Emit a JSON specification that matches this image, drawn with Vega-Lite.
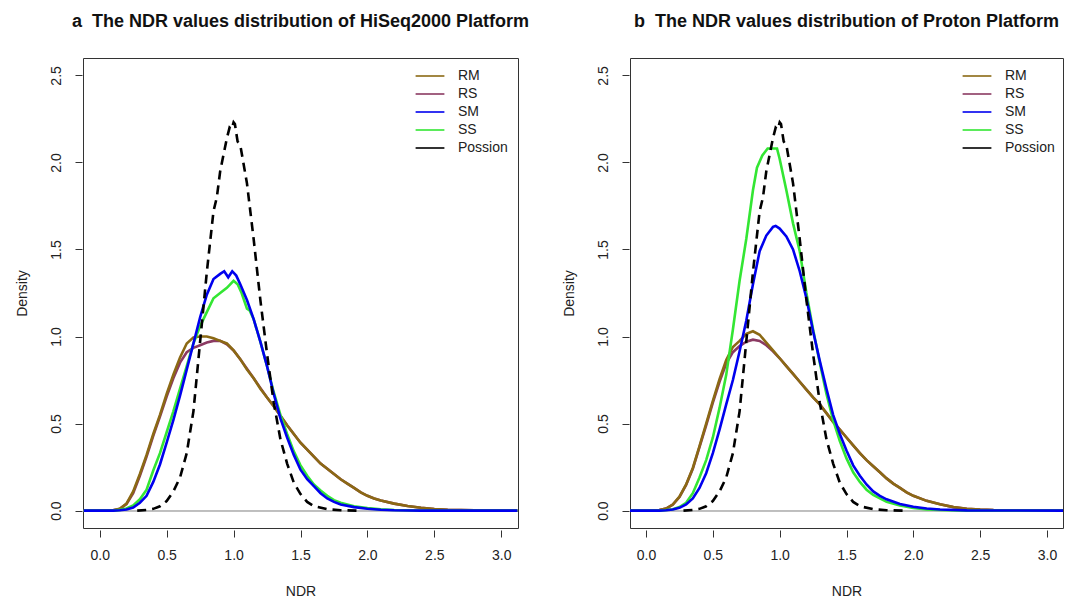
{
  "$schema": "https://vega.github.io/schema/vega-lite/v6.json",
  "padding": {"left": 14, "top": 12, "right": 5, "bottom": 5},
  "spacing": 112,
  "bounds": "flush",
  "config": {
    "font": "Liberation Sans",
    "view": {"stroke": "#333333", "strokeWidth": 1},
    "axis": {"labelFontSize": 14, "titleFontSize": 14, "titleFontWeight": "normal", "labelColor": "#222222", "titleColor": "#222222", "tickColor": "#333333", "grid": false, "domain": false, "tickSize": 7},
    "legend": {"labelFontSize": 14, "labelColor": "#222222"},
    "title": {"fontSize": 18, "fontWeight": "bold", "color": "#111111", "baseline": "alphabetic", "offset": 27.5, "frame": "group"}
  },
  "datasets": {
    "hiseq": [
      {"series":"RS","NDR":-0.12,"Density":0},{"series":"RS","NDR":0.05,"Density":0},{"series":"RS","NDR":0.10,"Density":0.002},{"series":"RS","NDR":0.15,"Density":0.01},{"series":"RS","NDR":0.20,"Density":0.038},{"series":"RS","NDR":0.25,"Density":0.10},{"series":"RS","NDR":0.30,"Density":0.20},{"series":"RS","NDR":0.35,"Density":0.31},{"series":"RS","NDR":0.40,"Density":0.43},{"series":"RS","NDR":0.45,"Density":0.54},{"series":"RS","NDR":0.50,"Density":0.655},{"series":"RS","NDR":0.55,"Density":0.76},{"series":"RS","NDR":0.60,"Density":0.85},{"series":"RS","NDR":0.65,"Density":0.91},{"series":"RS","NDR":0.70,"Density":0.935},{"series":"RS","NDR":0.75,"Density":0.95},{"series":"RS","NDR":0.80,"Density":0.965},{"series":"RS","NDR":0.85,"Density":0.975},{"series":"RS","NDR":0.90,"Density":0.975},{"series":"RS","NDR":0.95,"Density":0.955},{"series":"RS","NDR":1.00,"Density":0.92},{"series":"RS","NDR":1.05,"Density":0.87},{"series":"RS","NDR":1.10,"Density":0.815},{"series":"RS","NDR":1.15,"Density":0.76},{"series":"RS","NDR":1.20,"Density":0.705},{"series":"RS","NDR":1.25,"Density":0.65},{"series":"RS","NDR":1.30,"Density":0.60},{"series":"RS","NDR":1.35,"Density":0.545},{"series":"RS","NDR":1.40,"Density":0.49},{"series":"RS","NDR":1.45,"Density":0.44},{"series":"RS","NDR":1.50,"Density":0.39},{"series":"RS","NDR":1.55,"Density":0.35},{"series":"RS","NDR":1.60,"Density":0.31},{"series":"RS","NDR":1.65,"Density":0.27},{"series":"RS","NDR":1.70,"Density":0.24},{"series":"RS","NDR":1.75,"Density":0.21},{"series":"RS","NDR":1.80,"Density":0.18},{"series":"RS","NDR":1.85,"Density":0.155},{"series":"RS","NDR":1.90,"Density":0.13},{"series":"RS","NDR":1.95,"Density":0.105},{"series":"RS","NDR":2.00,"Density":0.085},{"series":"RS","NDR":2.05,"Density":0.07},{"series":"RS","NDR":2.10,"Density":0.058},{"series":"RS","NDR":2.20,"Density":0.04},{"series":"RS","NDR":2.30,"Density":0.026},{"series":"RS","NDR":2.40,"Density":0.016},{"series":"RS","NDR":2.50,"Density":0.009},{"series":"RS","NDR":2.60,"Density":0.005},{"series":"RS","NDR":2.80,"Density":0.001},{"series":"RS","NDR":3.12,"Density":0},
      {"series":"RM","NDR":-0.12,"Density":0},{"series":"RM","NDR":0.05,"Density":0},{"series":"RM","NDR":0.10,"Density":0.002},{"series":"RM","NDR":0.15,"Density":0.01},{"series":"RM","NDR":0.20,"Density":0.04},{"series":"RM","NDR":0.25,"Density":0.11},{"series":"RM","NDR":0.30,"Density":0.21},{"series":"RM","NDR":0.35,"Density":0.32},{"series":"RM","NDR":0.40,"Density":0.44},{"series":"RM","NDR":0.45,"Density":0.55},{"series":"RM","NDR":0.50,"Density":0.67},{"series":"RM","NDR":0.55,"Density":0.78},{"series":"RM","NDR":0.60,"Density":0.88},{"series":"RM","NDR":0.65,"Density":0.96},{"series":"RM","NDR":0.70,"Density":0.995},{"series":"RM","NDR":0.75,"Density":1.0},{"series":"RM","NDR":0.80,"Density":1.0},{"series":"RM","NDR":0.85,"Density":0.99},{"series":"RM","NDR":0.90,"Density":0.975},{"series":"RM","NDR":0.95,"Density":0.96},{"series":"RM","NDR":1.00,"Density":0.92},{"series":"RM","NDR":1.05,"Density":0.87},{"series":"RM","NDR":1.10,"Density":0.81},{"series":"RM","NDR":1.15,"Density":0.76},{"series":"RM","NDR":1.20,"Density":0.70},{"series":"RM","NDR":1.25,"Density":0.65},{"series":"RM","NDR":1.30,"Density":0.60},{"series":"RM","NDR":1.35,"Density":0.545},{"series":"RM","NDR":1.40,"Density":0.49},{"series":"RM","NDR":1.45,"Density":0.44},{"series":"RM","NDR":1.50,"Density":0.39},{"series":"RM","NDR":1.55,"Density":0.35},{"series":"RM","NDR":1.60,"Density":0.31},{"series":"RM","NDR":1.65,"Density":0.27},{"series":"RM","NDR":1.70,"Density":0.24},{"series":"RM","NDR":1.75,"Density":0.21},{"series":"RM","NDR":1.80,"Density":0.18},{"series":"RM","NDR":1.85,"Density":0.155},{"series":"RM","NDR":1.90,"Density":0.13},{"series":"RM","NDR":1.95,"Density":0.105},{"series":"RM","NDR":2.00,"Density":0.085},{"series":"RM","NDR":2.05,"Density":0.07},{"series":"RM","NDR":2.10,"Density":0.058},{"series":"RM","NDR":2.20,"Density":0.04},{"series":"RM","NDR":2.30,"Density":0.026},{"series":"RM","NDR":2.40,"Density":0.016},{"series":"RM","NDR":2.50,"Density":0.009},{"series":"RM","NDR":2.60,"Density":0.005},{"series":"RM","NDR":2.80,"Density":0.001},{"series":"RM","NDR":3.12,"Density":0},
      {"series":"SS","NDR":-0.12,"Density":0},{"series":"SS","NDR":0.10,"Density":0},{"series":"SS","NDR":0.15,"Density":0.004},{"series":"SS","NDR":0.20,"Density":0.012},{"series":"SS","NDR":0.25,"Density":0.03},{"series":"SS","NDR":0.30,"Density":0.065},{"series":"SS","NDR":0.35,"Density":0.12},{"series":"SS","NDR":0.40,"Density":0.23},{"series":"SS","NDR":0.45,"Density":0.33},{"series":"SS","NDR":0.50,"Density":0.45},{"series":"SS","NDR":0.55,"Density":0.57},{"series":"SS","NDR":0.60,"Density":0.70},{"series":"SS","NDR":0.65,"Density":0.83},{"series":"SS","NDR":0.70,"Density":0.96},{"series":"SS","NDR":0.75,"Density":1.06},{"series":"SS","NDR":0.80,"Density":1.14},{"series":"SS","NDR":0.85,"Density":1.22},{"series":"SS","NDR":0.90,"Density":1.25},{"series":"SS","NDR":0.95,"Density":1.28},{"series":"SS","NDR":1.00,"Density":1.32},{"series":"SS","NDR":1.03,"Density":1.30},{"series":"SS","NDR":1.06,"Density":1.25},{"series":"SS","NDR":1.10,"Density":1.16},{"series":"SS","NDR":1.12,"Density":1.15},{"series":"SS","NDR":1.15,"Density":1.10},{"series":"SS","NDR":1.20,"Density":0.97},{"series":"SS","NDR":1.25,"Density":0.83},{"series":"SS","NDR":1.30,"Density":0.68},{"series":"SS","NDR":1.35,"Density":0.55},{"series":"SS","NDR":1.40,"Density":0.44},{"series":"SS","NDR":1.45,"Density":0.34},{"series":"SS","NDR":1.50,"Density":0.26},{"series":"SS","NDR":1.55,"Density":0.20},{"series":"SS","NDR":1.60,"Density":0.15},{"series":"SS","NDR":1.65,"Density":0.115},{"series":"SS","NDR":1.70,"Density":0.085},{"series":"SS","NDR":1.75,"Density":0.06},{"series":"SS","NDR":1.80,"Density":0.045},{"series":"SS","NDR":1.90,"Density":0.025},{"series":"SS","NDR":2.00,"Density":0.014},{"series":"SS","NDR":2.10,"Density":0.007},{"series":"SS","NDR":2.20,"Density":0.003},{"series":"SS","NDR":2.40,"Density":0},{"series":"SS","NDR":3.12,"Density":0},
      {"series":"SM","NDR":-0.12,"Density":0},{"series":"SM","NDR":0.10,"Density":0},{"series":"SM","NDR":0.15,"Density":0.002},{"series":"SM","NDR":0.20,"Density":0.006},{"series":"SM","NDR":0.25,"Density":0.018},{"series":"SM","NDR":0.30,"Density":0.045},{"series":"SM","NDR":0.35,"Density":0.085},{"series":"SM","NDR":0.40,"Density":0.165},{"series":"SM","NDR":0.45,"Density":0.265},{"series":"SM","NDR":0.50,"Density":0.39},{"series":"SM","NDR":0.55,"Density":0.52},{"series":"SM","NDR":0.60,"Density":0.66},{"series":"SM","NDR":0.65,"Density":0.81},{"series":"SM","NDR":0.70,"Density":0.96},{"series":"SM","NDR":0.75,"Density":1.11},{"series":"SM","NDR":0.80,"Density":1.24},{"series":"SM","NDR":0.85,"Density":1.33},{"series":"SM","NDR":0.90,"Density":1.36},{"series":"SM","NDR":0.93,"Density":1.375},{"series":"SM","NDR":0.96,"Density":1.34},{"series":"SM","NDR":0.99,"Density":1.375},{"series":"SM","NDR":1.02,"Density":1.35},{"series":"SM","NDR":1.05,"Density":1.30},{"series":"SM","NDR":1.10,"Density":1.21},{"series":"SM","NDR":1.15,"Density":1.10},{"series":"SM","NDR":1.20,"Density":0.97},{"series":"SM","NDR":1.25,"Density":0.83},{"series":"SM","NDR":1.30,"Density":0.67},{"series":"SM","NDR":1.35,"Density":0.53},{"series":"SM","NDR":1.40,"Density":0.42},{"series":"SM","NDR":1.45,"Density":0.32},{"series":"SM","NDR":1.50,"Density":0.235},{"series":"SM","NDR":1.55,"Density":0.18},{"series":"SM","NDR":1.60,"Density":0.14},{"series":"SM","NDR":1.65,"Density":0.10},{"series":"SM","NDR":1.70,"Density":0.07},{"series":"SM","NDR":1.75,"Density":0.05},{"series":"SM","NDR":1.80,"Density":0.035},{"series":"SM","NDR":1.90,"Density":0.02},{"series":"SM","NDR":2.00,"Density":0.011},{"series":"SM","NDR":2.10,"Density":0.005},{"series":"SM","NDR":2.20,"Density":0.002},{"series":"SM","NDR":2.40,"Density":0},{"series":"SM","NDR":3.12,"Density":0},
      {"series":"Possion","NDR":0.28,"Density":0},{"series":"Possion","NDR":0.35,"Density":0.004},{"series":"Possion","NDR":0.40,"Density":0.01},{"series":"Possion","NDR":0.45,"Density":0.025},{"series":"Possion","NDR":0.50,"Density":0.055},{"series":"Possion","NDR":0.55,"Density":0.11},{"series":"Possion","NDR":0.60,"Density":0.19},{"series":"Possion","NDR":0.65,"Density":0.33},{"series":"Possion","NDR":0.70,"Density":0.57},{"series":"Possion","NDR":0.75,"Density":0.97},{"series":"Possion","NDR":0.80,"Density":1.37},{"series":"Possion","NDR":0.85,"Density":1.72},{"series":"Possion","NDR":0.875,"Density":1.80},{"series":"Possion","NDR":0.90,"Density":1.95},{"series":"Possion","NDR":0.95,"Density":2.14},{"series":"Possion","NDR":0.97,"Density":2.20},{"series":"Possion","NDR":0.985,"Density":2.19},{"series":"Possion","NDR":1.00,"Density":2.23},{"series":"Possion","NDR":1.01,"Density":2.22},{"series":"Possion","NDR":1.03,"Density":2.12},{"series":"Possion","NDR":1.05,"Density":2.10},{"series":"Possion","NDR":1.10,"Density":1.88},{"series":"Possion","NDR":1.15,"Density":1.56},{"series":"Possion","NDR":1.20,"Density":1.21},{"series":"Possion","NDR":1.25,"Density":0.90},{"series":"Possion","NDR":1.30,"Density":0.62},{"series":"Possion","NDR":1.35,"Density":0.41},{"series":"Possion","NDR":1.40,"Density":0.27},{"series":"Possion","NDR":1.45,"Density":0.16},{"series":"Possion","NDR":1.50,"Density":0.095},{"series":"Possion","NDR":1.55,"Density":0.05},{"series":"Possion","NDR":1.60,"Density":0.025},{"series":"Possion","NDR":1.70,"Density":0.008},{"series":"Possion","NDR":1.80,"Density":0.002},{"series":"Possion","NDR":1.92,"Density":0}
    ],
    "proton": [
      {"series":"RS","NDR":-0.12,"Density":0},{"series":"RS","NDR":0.05,"Density":0},{"series":"RS","NDR":0.10,"Density":0.003},{"series":"RS","NDR":0.15,"Density":0.012},{"series":"RS","NDR":0.20,"Density":0.034},{"series":"RS","NDR":0.25,"Density":0.078},{"series":"RS","NDR":0.30,"Density":0.148},{"series":"RS","NDR":0.35,"Density":0.24},{"series":"RS","NDR":0.40,"Density":0.365},{"series":"RS","NDR":0.45,"Density":0.49},{"series":"RS","NDR":0.50,"Density":0.62},{"series":"RS","NDR":0.55,"Density":0.74},{"series":"RS","NDR":0.60,"Density":0.845},{"series":"RS","NDR":0.65,"Density":0.91},{"series":"RS","NDR":0.70,"Density":0.945},{"series":"RS","NDR":0.75,"Density":0.97},{"series":"RS","NDR":0.80,"Density":0.982},{"series":"RS","NDR":0.85,"Density":0.975},{"series":"RS","NDR":0.90,"Density":0.95},{"series":"RS","NDR":0.95,"Density":0.915},{"series":"RS","NDR":1.00,"Density":0.875},{"series":"RS","NDR":1.05,"Density":0.83},{"series":"RS","NDR":1.10,"Density":0.785},{"series":"RS","NDR":1.15,"Density":0.74},{"series":"RS","NDR":1.20,"Density":0.695},{"series":"RS","NDR":1.25,"Density":0.65},{"series":"RS","NDR":1.30,"Density":0.61},{"series":"RS","NDR":1.35,"Density":0.56},{"series":"RS","NDR":1.40,"Density":0.51},{"series":"RS","NDR":1.45,"Density":0.465},{"series":"RS","NDR":1.50,"Density":0.42},{"series":"RS","NDR":1.55,"Density":0.375},{"series":"RS","NDR":1.60,"Density":0.33},{"series":"RS","NDR":1.65,"Density":0.29},{"series":"RS","NDR":1.70,"Density":0.255},{"series":"RS","NDR":1.75,"Density":0.22},{"series":"RS","NDR":1.80,"Density":0.185},{"series":"RS","NDR":1.85,"Density":0.155},{"series":"RS","NDR":1.90,"Density":0.13},{"series":"RS","NDR":1.95,"Density":0.105},{"series":"RS","NDR":2.00,"Density":0.085},{"series":"RS","NDR":2.10,"Density":0.056},{"series":"RS","NDR":2.20,"Density":0.036},{"series":"RS","NDR":2.30,"Density":0.02},{"series":"RS","NDR":2.40,"Density":0.011},{"series":"RS","NDR":2.50,"Density":0.006},{"series":"RS","NDR":2.60,"Density":0.003},{"series":"RS","NDR":2.80,"Density":0.001},{"series":"RS","NDR":3.12,"Density":0},
      {"series":"RM","NDR":-0.12,"Density":0},{"series":"RM","NDR":0.05,"Density":0},{"series":"RM","NDR":0.10,"Density":0.003},{"series":"RM","NDR":0.15,"Density":0.012},{"series":"RM","NDR":0.20,"Density":0.035},{"series":"RM","NDR":0.25,"Density":0.08},{"series":"RM","NDR":0.30,"Density":0.15},{"series":"RM","NDR":0.35,"Density":0.245},{"series":"RM","NDR":0.40,"Density":0.37},{"series":"RM","NDR":0.45,"Density":0.50},{"series":"RM","NDR":0.50,"Density":0.63},{"series":"RM","NDR":0.55,"Density":0.755},{"series":"RM","NDR":0.60,"Density":0.865},{"series":"RM","NDR":0.65,"Density":0.94},{"series":"RM","NDR":0.70,"Density":0.975},{"series":"RM","NDR":0.75,"Density":1.015},{"series":"RM","NDR":0.80,"Density":1.03},{"series":"RM","NDR":0.85,"Density":1.01},{"series":"RM","NDR":0.90,"Density":0.965},{"series":"RM","NDR":0.95,"Density":0.92},{"series":"RM","NDR":1.00,"Density":0.875},{"series":"RM","NDR":1.05,"Density":0.83},{"series":"RM","NDR":1.10,"Density":0.785},{"series":"RM","NDR":1.15,"Density":0.74},{"series":"RM","NDR":1.20,"Density":0.695},{"series":"RM","NDR":1.25,"Density":0.65},{"series":"RM","NDR":1.30,"Density":0.61},{"series":"RM","NDR":1.35,"Density":0.56},{"series":"RM","NDR":1.40,"Density":0.51},{"series":"RM","NDR":1.45,"Density":0.465},{"series":"RM","NDR":1.50,"Density":0.42},{"series":"RM","NDR":1.55,"Density":0.375},{"series":"RM","NDR":1.60,"Density":0.33},{"series":"RM","NDR":1.65,"Density":0.29},{"series":"RM","NDR":1.70,"Density":0.255},{"series":"RM","NDR":1.75,"Density":0.22},{"series":"RM","NDR":1.80,"Density":0.185},{"series":"RM","NDR":1.85,"Density":0.155},{"series":"RM","NDR":1.90,"Density":0.13},{"series":"RM","NDR":1.95,"Density":0.105},{"series":"RM","NDR":2.00,"Density":0.085},{"series":"RM","NDR":2.10,"Density":0.056},{"series":"RM","NDR":2.20,"Density":0.036},{"series":"RM","NDR":2.30,"Density":0.02},{"series":"RM","NDR":2.40,"Density":0.011},{"series":"RM","NDR":2.50,"Density":0.006},{"series":"RM","NDR":2.60,"Density":0.003},{"series":"RM","NDR":2.80,"Density":0.001},{"series":"RM","NDR":3.12,"Density":0},
      {"series":"SS","NDR":-0.12,"Density":0},{"series":"SS","NDR":0.10,"Density":0},{"series":"SS","NDR":0.15,"Density":0.003},{"series":"SS","NDR":0.20,"Density":0.008},{"series":"SS","NDR":0.25,"Density":0.02},{"series":"SS","NDR":0.30,"Density":0.045},{"series":"SS","NDR":0.35,"Density":0.10},{"series":"SS","NDR":0.40,"Density":0.19},{"series":"SS","NDR":0.45,"Density":0.29},{"series":"SS","NDR":0.50,"Density":0.42},{"series":"SS","NDR":0.55,"Density":0.59},{"series":"SS","NDR":0.60,"Density":0.78},{"series":"SS","NDR":0.65,"Density":1.04},{"series":"SS","NDR":0.70,"Density":1.32},{"series":"SS","NDR":0.75,"Density":1.56},{"series":"SS","NDR":0.80,"Density":1.84},{"series":"SS","NDR":0.83,"Density":1.97},{"series":"SS","NDR":0.87,"Density":2.04},{"series":"SS","NDR":0.91,"Density":2.08},{"series":"SS","NDR":0.98,"Density":2.08},{"series":"SS","NDR":1.00,"Density":2.02},{"series":"SS","NDR":1.05,"Density":1.84},{"series":"SS","NDR":1.10,"Density":1.65},{"series":"SS","NDR":1.15,"Density":1.49},{"series":"SS","NDR":1.20,"Density":1.25},{"series":"SS","NDR":1.25,"Density":1.04},{"series":"SS","NDR":1.30,"Density":0.85},{"series":"SS","NDR":1.35,"Density":0.67},{"series":"SS","NDR":1.40,"Density":0.52},{"series":"SS","NDR":1.45,"Density":0.40},{"series":"SS","NDR":1.50,"Density":0.30},{"series":"SS","NDR":1.55,"Density":0.22},{"series":"SS","NDR":1.60,"Density":0.165},{"series":"SS","NDR":1.65,"Density":0.12},{"series":"SS","NDR":1.70,"Density":0.09},{"series":"SS","NDR":1.75,"Density":0.07},{"series":"SS","NDR":1.80,"Density":0.05},{"series":"SS","NDR":1.90,"Density":0.03},{"series":"SS","NDR":2.00,"Density":0.015},{"series":"SS","NDR":2.10,"Density":0.007},{"series":"SS","NDR":2.20,"Density":0.003},{"series":"SS","NDR":2.40,"Density":0},{"series":"SS","NDR":3.12,"Density":0},
      {"series":"SM","NDR":-0.12,"Density":0},{"series":"SM","NDR":0.10,"Density":0},{"series":"SM","NDR":0.15,"Density":0.002},{"series":"SM","NDR":0.20,"Density":0.006},{"series":"SM","NDR":0.25,"Density":0.016},{"series":"SM","NDR":0.30,"Density":0.035},{"series":"SM","NDR":0.35,"Density":0.07},{"series":"SM","NDR":0.40,"Density":0.13},{"series":"SM","NDR":0.45,"Density":0.215},{"series":"SM","NDR":0.50,"Density":0.33},{"series":"SM","NDR":0.55,"Density":0.465},{"series":"SM","NDR":0.60,"Density":0.61},{"series":"SM","NDR":0.65,"Density":0.75},{"series":"SM","NDR":0.70,"Density":0.915},{"series":"SM","NDR":0.75,"Density":1.09},{"series":"SM","NDR":0.80,"Density":1.30},{"series":"SM","NDR":0.85,"Density":1.49},{"series":"SM","NDR":0.90,"Density":1.58},{"series":"SM","NDR":0.95,"Density":1.63},{"series":"SM","NDR":0.97,"Density":1.635},{"series":"SM","NDR":1.00,"Density":1.62},{"series":"SM","NDR":1.05,"Density":1.575},{"series":"SM","NDR":1.10,"Density":1.50},{"series":"SM","NDR":1.15,"Density":1.375},{"series":"SM","NDR":1.20,"Density":1.22},{"series":"SM","NDR":1.25,"Density":1.03},{"series":"SM","NDR":1.30,"Density":0.86},{"series":"SM","NDR":1.35,"Density":0.70},{"series":"SM","NDR":1.40,"Density":0.55},{"series":"SM","NDR":1.45,"Density":0.44},{"series":"SM","NDR":1.50,"Density":0.345},{"series":"SM","NDR":1.55,"Density":0.26},{"series":"SM","NDR":1.60,"Density":0.20},{"series":"SM","NDR":1.65,"Density":0.15},{"series":"SM","NDR":1.70,"Density":0.11},{"series":"SM","NDR":1.75,"Density":0.085},{"series":"SM","NDR":1.80,"Density":0.065},{"series":"SM","NDR":1.90,"Density":0.038},{"series":"SM","NDR":2.00,"Density":0.022},{"series":"SM","NDR":2.10,"Density":0.012},{"series":"SM","NDR":2.20,"Density":0.006},{"series":"SM","NDR":2.40,"Density":0.001},{"series":"SM","NDR":3.12,"Density":0},
      {"series":"Possion","NDR":0.28,"Density":0},{"series":"Possion","NDR":0.35,"Density":0.004},{"series":"Possion","NDR":0.40,"Density":0.01},{"series":"Possion","NDR":0.45,"Density":0.025},{"series":"Possion","NDR":0.50,"Density":0.055},{"series":"Possion","NDR":0.55,"Density":0.11},{"series":"Possion","NDR":0.60,"Density":0.19},{"series":"Possion","NDR":0.65,"Density":0.33},{"series":"Possion","NDR":0.70,"Density":0.57},{"series":"Possion","NDR":0.75,"Density":0.97},{"series":"Possion","NDR":0.80,"Density":1.37},{"series":"Possion","NDR":0.85,"Density":1.72},{"series":"Possion","NDR":0.875,"Density":1.80},{"series":"Possion","NDR":0.90,"Density":1.95},{"series":"Possion","NDR":0.95,"Density":2.14},{"series":"Possion","NDR":0.97,"Density":2.20},{"series":"Possion","NDR":0.985,"Density":2.19},{"series":"Possion","NDR":1.00,"Density":2.23},{"series":"Possion","NDR":1.01,"Density":2.22},{"series":"Possion","NDR":1.03,"Density":2.12},{"series":"Possion","NDR":1.05,"Density":2.10},{"series":"Possion","NDR":1.10,"Density":1.88},{"series":"Possion","NDR":1.15,"Density":1.56},{"series":"Possion","NDR":1.20,"Density":1.21},{"series":"Possion","NDR":1.25,"Density":0.90},{"series":"Possion","NDR":1.30,"Density":0.62},{"series":"Possion","NDR":1.35,"Density":0.41},{"series":"Possion","NDR":1.40,"Density":0.27},{"series":"Possion","NDR":1.45,"Density":0.16},{"series":"Possion","NDR":1.50,"Density":0.095},{"series":"Possion","NDR":1.55,"Density":0.05},{"series":"Possion","NDR":1.60,"Density":0.025},{"series":"Possion","NDR":1.70,"Density":0.008},{"series":"Possion","NDR":1.80,"Density":0.002},{"series":"Possion","NDR":1.92,"Density":0}
    ]
  },
  "hconcat": [
    {
      "title": {"text": "a\u00a0 The NDR values distribution of HiSeq2000 Platform"},
      "width": 435,
      "height": 470,
      "data": {"name": "hiseq"},
      "layer": [
        {"mark": {"type": "rule", "color": "#BEBEBE", "strokeWidth": 1}, "encoding": {"y": {"datum": 0, "type": "quantitative", "scale": {"domain": [-0.1, 2.6], "nice": false, "zero": false}}}},
        {
          "transform": [{"filter": "datum.series !== 'Possion'"}],
          "mark": {"type": "line", "strokeWidth": 2.6, "clip": true},
          "encoding": {
            "x": {"field": "NDR", "type": "quantitative", "scale": {"domain": [-0.125, 3.125], "nice": false, "zero": false}, "axis": {"values": [0, 0.5, 1, 1.5, 2, 2.5, 3], "format": ".1f", "offset": 2, "labelPadding": 11, "titlePadding": 22, "title": "NDR", "labelFlush": false}},
            "y": {"field": "Density", "type": "quantitative", "scale": {"domain": [-0.1, 2.6], "nice": false, "zero": false}, "axis": {"values": [0, 0.5, 1, 1.5, 2, 2.5], "format": ".1f", "labelAngle": 270, "labelAlign": "center", "labelBaseline": "bottom", "offset": 1, "labelPadding": 12, "titlePadding": 20, "title": "Density"}},
            "color": {"field": "series", "type": "nominal", "scale": {"domain": ["RM", "RS", "SM", "SS", "Possion"], "range": ["#8B6914", "#8B3A62", "#0000EE", "#33E633", "#000000"]}, "legend": {"title": null, "orient": "none", "legendX": 340, "legendY": 11, "padding": 0, "symbolType": "M-2.4,0H2.4", "symbolSize": 144, "symbolStrokeWidth": 1.6, "labelOffset": 21, "rowPadding": 4}},
            "order": {"field": "NDR", "type": "quantitative"}
          }
        },
        {
          "transform": [{"filter": "datum.series === 'Possion'"}],
          "mark": {"type": "line", "strokeWidth": 2.6, "strokeDash": [9, 6], "clip": true},
          "encoding": {
            "x": {"field": "NDR", "type": "quantitative"},
            "y": {"field": "Density", "type": "quantitative"},
            "color": {"field": "series", "type": "nominal"}
          }
        }
      ]
    },
    {
      "title": {"text": "b\u00a0 The NDR values distribution of Proton Platform"},
      "width": 433,
      "height": 470,
      "data": {"name": "proton"},
      "layer": [
        {"mark": {"type": "rule", "color": "#BEBEBE", "strokeWidth": 1}, "encoding": {"y": {"datum": 0, "type": "quantitative", "scale": {"domain": [-0.1, 2.6], "nice": false, "zero": false}}}},
        {
          "transform": [{"filter": "datum.series !== 'Possion'"}],
          "mark": {"type": "line", "strokeWidth": 2.6, "clip": true},
          "encoding": {
            "x": {"field": "NDR", "type": "quantitative", "scale": {"domain": [-0.12, 3.12], "nice": false, "zero": false}, "axis": {"values": [0, 0.5, 1, 1.5, 2, 2.5, 3], "format": ".1f", "offset": 2, "labelPadding": 11, "titlePadding": 22, "title": "NDR", "labelFlush": false}},
            "y": {"field": "Density", "type": "quantitative", "scale": {"domain": [-0.1, 2.6], "nice": false, "zero": false}, "axis": {"values": [0, 0.5, 1, 1.5, 2, 2.5], "format": ".1f", "labelAngle": 270, "labelAlign": "center", "labelBaseline": "bottom", "offset": 1, "labelPadding": 12, "titlePadding": 20, "title": "Density"}},
            "color": {"field": "series", "type": "nominal", "scale": {"domain": ["RM", "RS", "SM", "SS", "Possion"], "range": ["#8B6914", "#8B3A62", "#0000EE", "#33E633", "#000000"]}, "legend": {"title": null, "orient": "none", "legendX": 340, "legendY": 11, "padding": 0, "symbolType": "M-2.4,0H2.4", "symbolSize": 144, "symbolStrokeWidth": 1.6, "labelOffset": 21, "rowPadding": 4}},
            "order": {"field": "NDR", "type": "quantitative"}
          }
        },
        {
          "transform": [{"filter": "datum.series === 'Possion'"}],
          "mark": {"type": "line", "strokeWidth": 2.6, "strokeDash": [9, 6], "clip": true},
          "encoding": {
            "x": {"field": "NDR", "type": "quantitative"},
            "y": {"field": "Density", "type": "quantitative"},
            "color": {"field": "series", "type": "nominal"}
          }
        }
      ]
    }
  ],
  "resolve": {"scale": {"color": "independent"}, "legend": {"color": "independent"}}
}
